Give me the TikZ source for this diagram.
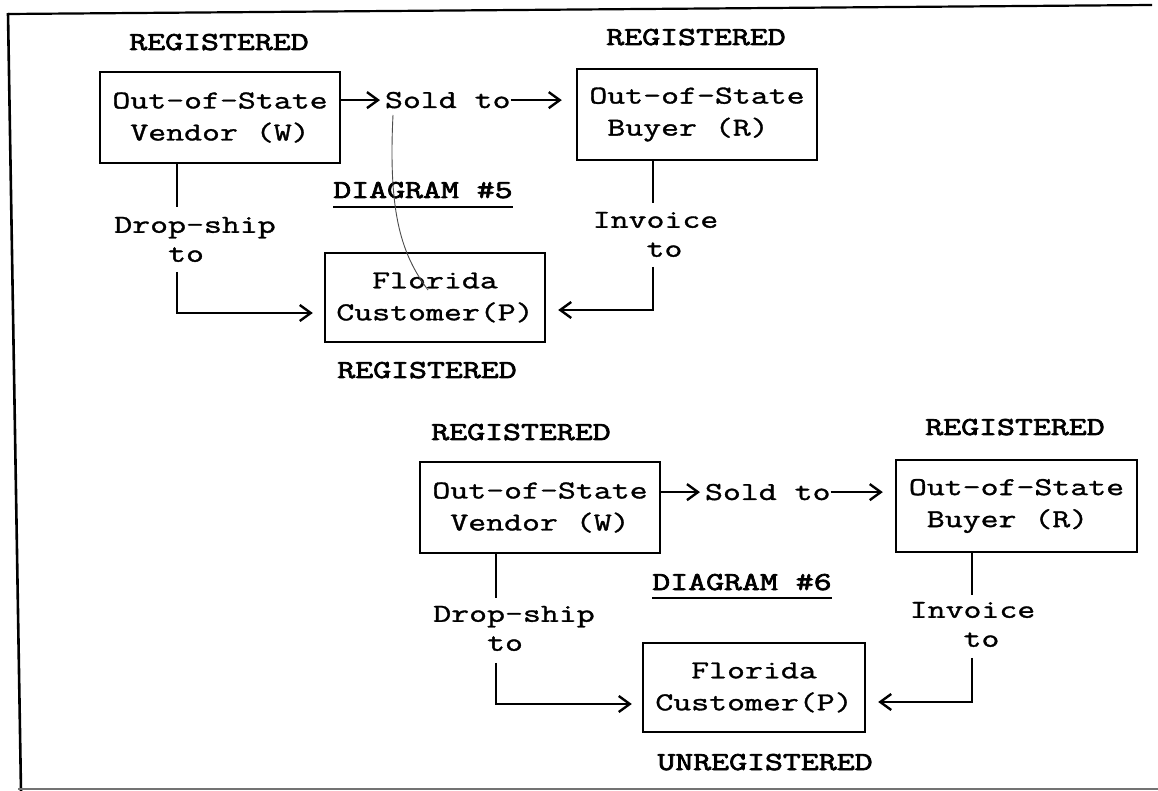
\documentclass[tikz,border=0pt]{standalone}
\usepackage{fontspec}
\usetikzlibrary{arrows.meta}
\newfontfamily\tw{Latin Modern Mono}[FakeStretch=1.35, FakeBold=1.3]
\newfontfamily\twb{Latin Modern Mono}[FakeStretch=1.35, FakeBold=2.8]
\begin{document}
\begin{tikzpicture}[x=0.5pt,y=-0.5pt,
  box/.style={draw, line width=1.2pt, inner sep=0pt, align=center, font=\tw\fontsize{12.9}{16}\selectfont},
  lbl/.style={inner sep=0pt, outer sep=0pt, align=center, font=\tw\fontsize{12.9}{14.5}\selectfont},
  reg/.style={inner sep=0pt, outer sep=0pt, anchor=base, font=\twb\fontsize{12.9}{16}\selectfont},
  ln/.style={line width=1.1pt},
  arr/.style={line width=1.1pt, -{Straight Barb[length=5.5pt,width=8pt,line width=1.2pt]}},
  ul/.style={line width=1pt},
  scan/.style={line width=0.45pt, black!70}
]
\useasboundingbox (0,0) rectangle (1158,791);
\fill[white] (0,0) rectangle (1158,791);

% frame
\draw[line width=1.1pt] (8,14) -- (1152,5);
\draw[line width=1.3pt] (8,13) -- (21,791);
\draw[line width=0.7pt, black!55] (18,789) -- (1158,789);

% ---------------- Diagram 5
\node[box, minimum width=120pt, minimum height=45.5pt] (v5) at (220,117.5) {Out-of-State\\Vendor (W)};
\node[box, minimum width=120pt, minimum height=45.5pt] (b5) at (697,114.5) {Out-of-State\\Buyer (R)\phantom{X}};
\node[box, minimum width=110pt, minimum height=44.5pt] (f5) at (435,297.5) {Florida\\Customer(P)};
\node[reg] (r5v) at (219,50) {REGISTERED};
\node[reg] (r5b) at (696,45) {REGISTERED};
\node[reg] (r5f) at (427,378) {REGISTERED};
\node[reg] (d5) at (423,198) {DIAGRAM \#5};
\draw[ul] ([yshift=-4.5pt]d5.base west) -- ([yshift=-4.5pt]d5.base east);
\node[lbl, anchor=base west] (s5) at (385,108) {Sold to};
\node[lbl, anchor=north] (ds5) at (195,217) {Drop-ship\\to\phantom{X}};
\node[lbl, anchor=north] (iv5) at (655.5,212) {Invoice\\\phantom{X}to};
\coordinate (x5d) at (177,0);
\coordinate (x5i) at (653,0);

\draw[arr, shorten >=2.5pt] (v5.east |- s5.west) -- (s5.west);
\draw[arr, shorten >=7pt] (s5.east) -- (b5.west |- s5.east);
\draw[ln, shorten >=5pt] (v5.south -| x5d) -- (ds5.north -| x5d);
\draw[arr, shorten <=5pt, shorten >=5.5pt] (ds5.south -| x5d) |- ([yshift=-7.75pt]f5.west);
\draw[ln, shorten >=4.5pt] (b5.south -| x5i) -- (iv5.north -| x5i);
\draw[arr, shorten <=5pt, shorten >=6pt] (iv5.south -| x5i) |- ([yshift=-6.25pt]f5.east);
\draw[scan] (393,115) .. controls (388,215) and (402,255) .. (428,290);

% ---------------- Diagram 6
\node[box, minimum width=120pt, minimum height=45.5pt] (v6) at (540,507.5) {Out-of-State\\Vendor (W)};
\node[box, minimum width=120.5pt, minimum height=46pt] (b6) at (1016.5,506) {Out-of-State\\Buyer (R)\phantom{X}};
\node[box, minimum width=111pt, minimum height=44.5pt] (f6) at (754,687.5) {Florida\\Customer(P)};
\node[reg] (r6v) at (521,440) {REGISTERED};
\node[reg] (r6b) at (1015,435) {REGISTERED};
\node[reg] (r6f) at (765,770) {UNREGISTERED};
\node[reg] (d6) at (742,590) {DIAGRAM \#6};
\draw[ul] ([yshift=-4pt]d6.base west) -- ([yshift=-4pt]d6.base east);
\node[lbl, anchor=base west] (s6) at (705,500) {Sold to};
\node[lbl, anchor=north] (ds6) at (514,606) {Drop-ship\\to\phantom{X}};
\node[lbl, anchor=north] (iv6) at (972.5,602) {Invoice\\\phantom{X}to};
\coordinate (x6d) at (496,0);
\coordinate (x6i) at (972,0);

\draw[arr, shorten >=2.5pt] (v6.east |- s6.west) -- (s6.west);
\draw[arr, shorten >=6pt] (s6.east) -- (b6.west |- s6.east);
\draw[ln, shorten >=4pt] (v6.south -| x6d) -- (ds6.north -| x6d);
\draw[arr, shorten <=6pt, shorten >=5pt] (ds6.south -| x6d) |- ([yshift=-8.25pt]f6.west);
\draw[ln, shorten >=3.5pt] (b6.south -| x6i) -- (iv6.north -| x6i);
\draw[arr, shorten <=5.5pt, shorten >=6pt] (iv6.south -| x6i) |- ([yshift=-7.25pt]f6.east);
\end{tikzpicture}
\end{document}
